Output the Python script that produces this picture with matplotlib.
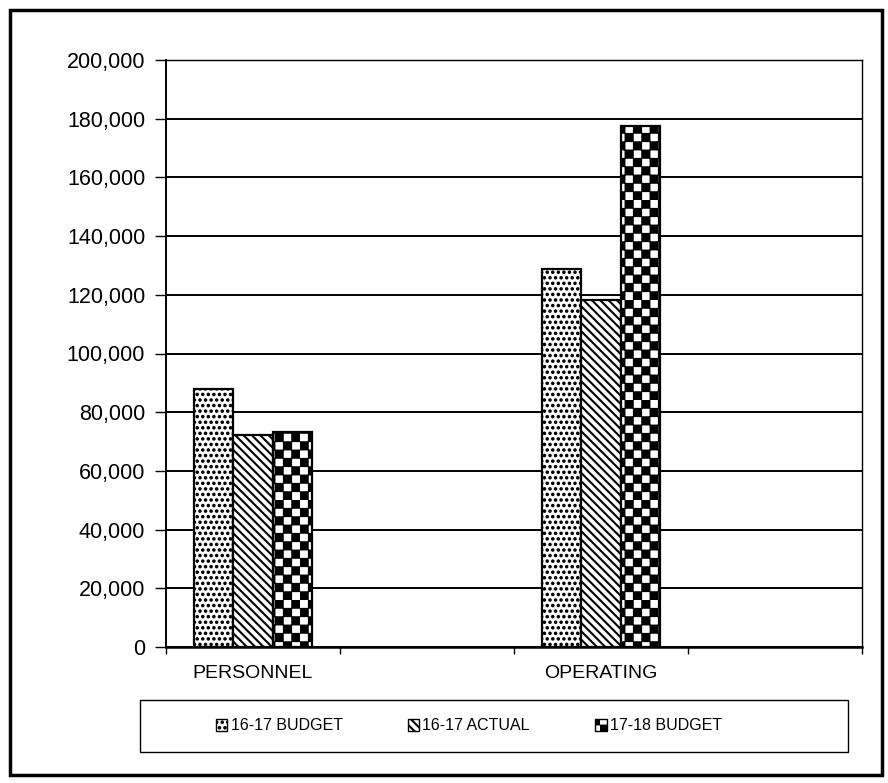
import numpy as np
import matplotlib
matplotlib.use('Agg')
import matplotlib.pyplot as plt
import matplotlib.hatch as mhatch
from matplotlib.path import Path
from matplotlib.patches import Rectangle, Patch
from matplotlib.ticker import FuncFormatter

# --- data ---
categories = ['PERSONNEL', '', 'OPERATING', '']
series_names = ['16-17 BUDGET', '16-17 ACTUAL', '17-18 BUDGET']
budget_1617 = [87750, np.nan, 128900, np.nan]
actual_1617 = [72300, np.nan, 118100, np.nan]
budget_1718 = [73100, np.nan, 177500, np.nan]


# checkerboard hatch (takes the place of the '*' star hatch)
class Checker(mhatch.HatchPatternBase):
    filled = True
    inset = 0.006

    def __init__(self, hatch, density):
        n = hatch.count('*') * density
        self.n = n - n % 2
        self.num_vertices = (self.n * self.n // 2) * 5

    def set_vertices_and_codes(self, vertices, codes):
        s = 1.0 / self.n
        d = self.inset
        k = 0
        for i in range(self.n):
            for j in range(self.n):
                if (i + j) % 2 == 0:
                    x0, y0, x1, y1 = i * s + d, j * s + d, (i + 1) * s - d, (j + 1) * s - d
                    vertices[k:k + 5] = [(x0, y0), (x1, y0), (x1, y1), (x0, y1), (x0, y0)]
                    codes[k:k + 5] = [Path.MOVETO, Path.LINETO, Path.LINETO, Path.LINETO, Path.CLOSEPOLY]
                    k += 5


mhatch._hatch_types = [h for h in mhatch._hatch_types if h is not mhatch.Stars] + [Checker]
mhatch.SmallFilledCircles.size = 0.13
plt.rcParams['hatch.linewidth'] = 1.5
plt.rcParams['font.family'] = ['Liberation Sans', 'DejaVu Sans']

fig = plt.figure(figsize=(8.88, 7.83), dpi=100)
ax = fig.add_axes([166 / 888, 136 / 783, 696 / 888, 587 / 783])

x = np.arange(len(categories))
w = 0.225
hatches = ['...', '\\\\\\\\', '**']
for i, (vals, name) in enumerate(zip([budget_1617, actual_1617, budget_1718], series_names)):
    ax.bar(x + (i - 1) * w, vals, w, facecolor='white', edgecolor='black',
           hatch=hatches[i], linewidth=1.6, zorder=3, label=name)

ax.set_ylim(0, 200000)
ax.set_xlim(-0.5, len(categories) - 0.5)
ax.set_yticks(np.arange(0, 200001, 20000))
ax.yaxis.set_major_formatter(FuncFormatter(lambda v, p: f'{v:,.0f}'))
ax.yaxis.grid(True, color='black', linewidth=1.4, zorder=0)
ax.set_axisbelow(True)

ax.set_xticks([0, 2])
ax.set_xticklabels([categories[0], categories[2]], fontsize=14)
ax.set_xticks(np.arange(-0.5, len(categories), 1.0), minor=True)
ax.tick_params(axis='x', which='major', length=0, pad=13)
ax.tick_params(axis='x', which='minor', length=5, width=1, direction='out')
ax.tick_params(axis='y', length=8, width=1, labelsize=15.5, pad=7)

for sp in ax.spines.values():
    sp.set_color('black')
    sp.set_linewidth(1.0)
ax.spines['bottom'].set_linewidth(1.8)
ax.spines['left'].set_linewidth(1.4)

# outer chart border
fig.patches.append(Rectangle((10 / 888, 8 / 783), 872 / 888, 765 / 783, transform=fig.transFigure,
                             fill=False, edgecolor='black', linewidth=2.5))

# legend box
fig.patches.append(Rectangle((140 / 888, (783 - 752) / 783), 708 / 888, 52 / 783, transform=fig.transFigure,
                             fill=False, edgecolor='black', linewidth=1.0))
handles = [Patch(facecolor='white', edgecolor='black', hatch=h, linewidth=1.0) for h in hatches]
fig.legend(handles, series_names, loc='center', bbox_to_anchor=(469 / 888, 1 - 726 / 783),
           ncol=3, frameon=False, fontsize=11.5, columnspacing=4.1, handlelength=0.7,
           handleheight=0.7, handletextpad=0.2)

fig.savefig('out.png', dpi=100)
